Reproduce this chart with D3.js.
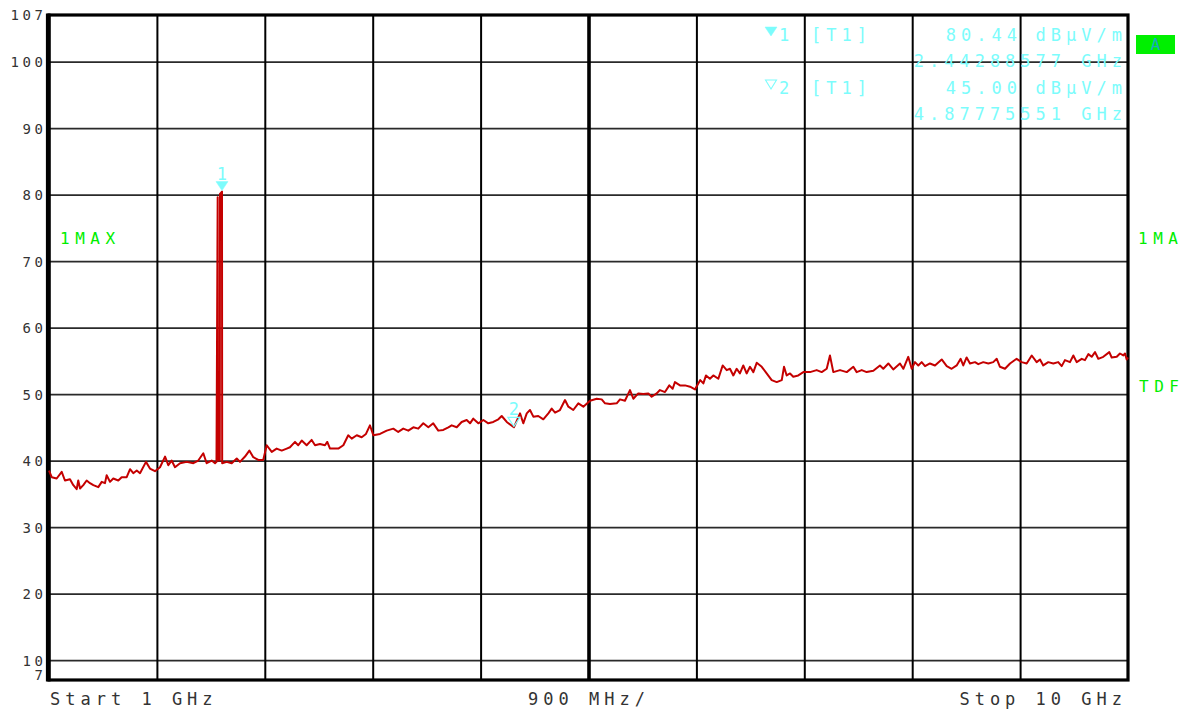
<!DOCTYPE html>
<html>
<head>
<meta charset="utf-8">
<script src="https://cdn.jsdelivr.net/npm/d3@7"></script>
<style>
  body { margin: 0; background: #ffffff; }
  svg { display: block; }
  text { font-family: "DejaVu Sans Mono", monospace; }
</style>
</head>
<body>
<svg id="chart" width="1188" height="711"></svg>
<script>
// Trace 1 (max hold), frequency in GHz and level in dBµV/m
const traceFreqGHz = [
  1.000,1.023,1.064,1.106,1.133,1.175,1.203,1.231,1.244,1.259,
  1.286,1.314,1.342,1.370,1.411,1.440,1.467,1.481,1.509,1.536,
  1.578,1.606,1.648,1.676,1.703,1.732,1.759,1.809,1.842,1.884,
  1.926,1.968,1.995,2.023,2.051,2.093,2.149,2.204,2.245,2.287,
  2.315,2.357,2.385,2.397,2.407,2.409,2.4245,2.4265,2.4429,2.4445,2.482,
  2.524,2.566,2.593,2.635,2.671,2.704,2.746,2.787,2.816,2.858,
  2.899,2.941,2.983,3.010,3.052,3.079,3.108,3.149,3.191,3.219,
  3.260,3.302,3.321,3.344,3.413,3.455,3.496,3.525,3.567,3.608,
  3.644,3.677,3.705,3.761,3.817,3.872,3.913,3.955,3.997,4.039,
  4.080,4.122,4.164,4.205,4.247,4.289,4.331,4.359,4.401,4.442,
  4.484,4.512,4.539,4.581,4.623,4.664,4.706,4.748,4.776,4.818,
  4.8778,4.929,4.956,4.985,5.012,5.040,5.081,5.123,5.165,5.193,
  5.221,5.262,5.304,5.332,5.373,5.415,5.457,5.513,5.568,5.610,
  5.638,5.679,5.735,5.763,5.804,5.846,5.874,5.915,5.957,5.999,
  6.027,6.069,6.096,6.138,6.174,6.202,6.221,6.263,6.305,6.347,
  6.388,6.432,6.458,6.480,6.513,6.541,6.583,6.619,6.653,6.680,
  6.708,6.736,6.763,6.791,6.819,6.847,6.875,6.903,6.945,6.986,
  7.028,7.070,7.112,7.131,7.153,7.181,7.208,7.250,7.292,7.348,
  7.403,7.445,7.487,7.514,7.542,7.598,7.654,7.709,7.737,7.779,
  7.820,7.876,7.931,7.959,8.001,8.042,8.098,8.126,8.167,8.196,
  8.223,8.251,8.279,8.307,8.348,8.390,8.446,8.488,8.529,8.571,
  8.604,8.626,8.654,8.682,8.724,8.751,8.793,8.835,8.876,8.905,
  8.932,8.974,9.016,9.071,9.113,9.155,9.197,9.238,9.266,9.293,
  9.335,9.377,9.418,9.447,9.474,9.516,9.544,9.572,9.614,9.641,
  9.669,9.697,9.725,9.752,9.794,9.844,9.864,9.906,9.933,9.961,
  9.975,9.989,10.000
];
const traceLevel = [
  38.5,37.5,37.3,38.3,37.0,37.2,36.3,35.7,37.0,35.8,
  36.3,37.0,36.6,36.3,36.0,36.8,36.6,37.8,36.8,37.3,
  37.0,37.5,37.5,38.7,38.1,38.5,38.1,39.8,38.8,38.4,
  39.0,40.6,39.3,40.0,39.0,39.6,39.8,39.6,40.0,41.1,
  39.6,40.0,39.6,39.8,79.6,40.0,40.0,80.1,80.44,39.6,39.8,
  39.6,40.3,39.8,40.6,41.5,40.5,40.1,40.1,42.3,41.3,
  41.8,41.5,41.8,42.0,42.8,42.3,43.0,42.3,43.1,42.3,
  42.5,42.3,42.8,41.8,41.8,42.3,43.8,43.3,43.8,43.5,
  44.0,45.3,43.8,44.0,44.5,44.8,44.3,44.8,44.5,45.0,
  44.8,45.6,45.0,45.6,44.5,44.6,45.0,45.3,45.0,45.8,
  46.1,45.6,46.3,45.6,46.1,45.6,45.8,46.2,46.7,45.8,
  45.0,47.1,45.6,47.1,47.6,46.6,46.7,46.2,47.1,47.8,
  47.2,47.6,49.1,48.1,47.6,48.6,48.1,49.0,49.3,49.2,
  48.6,48.5,48.6,49.2,49.0,50.6,49.3,50.1,50.0,50.1,
  49.6,50.1,50.6,50.3,51.3,50.8,51.8,51.3,51.3,51.1,
  50.7,52.1,51.6,52.8,52.3,52.8,52.3,54.3,53.6,53.8,
  52.8,53.8,53.1,54.3,53.1,54.1,53.3,54.7,54.1,53.1,
  52.1,51.8,52.1,54.1,52.8,53.1,52.6,52.8,53.3,53.3,
  53.6,53.3,53.8,55.8,53.3,53.6,53.3,54.1,53.3,53.6,
  53.3,53.5,54.3,53.8,54.6,53.7,54.6,53.8,55.6,53.8,
  54.8,54.3,54.8,54.2,54.6,54.3,55.2,54.2,53.8,54.3,
  55.3,54.3,55.5,54.6,54.8,54.5,54.8,54.6,54.8,55.3,
  54.1,53.8,54.6,55.3,54.8,54.6,55.8,54.8,55.2,54.3,
  54.8,54.6,54.8,54.2,55.1,54.8,55.8,54.8,55.3,55.1,
  56.0,55.6,56.3,55.3,55.6,56.3,55.5,55.6,56.1,55.8,
  56.1,55.2,55.5
];

// Axis settings
const yTickValues = [107, 100, 90, 80, 70, 60, 50, 40, 30, 20, 10, 7];
const yGridValues = [100, 90, 80, 70, 60, 50, 40, 30, 20, 10];
const xGridGHz = [1.9, 2.8, 3.7, 4.6, 5.5, 6.4, 7.3, 8.2, 9.1];

// Markers
const markerIds = ["1", "2"];
const markerFreqGHz = [2.44288577, 4.87775551];
const markerLevel = [80.44, 45.00];
const markerFilled = [true, false];

// Annotation text
const footLabels = ["Start 1 GHz", "900 MHz/", "Stop 10 GHz"];
const traceModeLabel = ["1MAX", "1MA"];
const detectorLabel = "TDF";
const screenLabel = "A";

const svg = d3.select("#chart");
const plotLeft = 49, plotRight = 1128, plotTop = 15, plotBottom = 680;

const x = d3.scaleLinear().domain([1, 10]).range([plotLeft, plotRight]);
const y = d3.scaleLinear().domain([7, 107]).range([plotBottom, plotTop]);

const CYAN = "#7cfcfc";
const GREEN = "#00ee00";
const RED = "#c40000";

// Horizontal grid
const hGrid = svg.append("g")
  .attr("transform", `translate(${plotLeft},0)`)
  .call(d3.axisLeft(y).tickValues(yGridValues).tickSize(-(plotRight - plotLeft)).tickFormat(""));
hGrid.select(".domain").remove();
hGrid.selectAll(".tick line").attr("stroke", "#2a2a2a").attr("stroke-width", 1.7);

// Vertical grid
const vGrid = svg.append("g")
  .attr("transform", `translate(0,${plotBottom})`)
  .call(d3.axisBottom(x).tickValues(xGridGHz).tickSize(-(plotBottom - plotTop)).tickFormat(""));
vGrid.select(".domain").remove();
vGrid.selectAll(".tick line")
  .attr("stroke", "#000")
  .attr("stroke-width", d => (Math.abs(d - 5.5) < 1e-9 ? 3.6 : 2));

// Frame
svg.append("rect")
  .attr("x", plotLeft).attr("y", plotTop)
  .attr("width", plotRight - plotLeft).attr("height", plotBottom - plotTop)
  .attr("fill", "none").attr("stroke", "#000").attr("stroke-width", 3.2);
svg.append("line")
  .attr("x1", plotLeft - 0.8).attr("x2", plotLeft - 0.8)
  .attr("y1", plotTop - 1.5).attr("y2", plotBottom + 1.5)
  .attr("stroke", "#000").attr("stroke-width", 4.6);

// Level labels
const yLabels = svg.append("g")
  .attr("transform", `translate(${plotLeft},0)`)
  .call(d3.axisLeft(y).tickValues(yTickValues).tickSize(0).tickPadding(0).tickFormat(d3.format("d")));
yLabels.select(".domain").remove();
yLabels.selectAll(".tick text")
  .attr("x", -2.5)
  .attr("fill", "#333")
  .style("font-size", "14px")
  .style("letter-spacing", "3.6px")
  .attr("dy", d => (d === 7 ? "-0.05em" : d === 107 ? "0.3em" : "0.36em"));

// Trace
const line = d3.line()
  .x((d, i) => x(traceFreqGHz[i]))
  .y(d => y(d));
svg.append("path")
  .datum(traceLevel)
  .attr("d", line)
  .attr("fill", "none")
  .attr("stroke", RED)
  .attr("stroke-width", 2)
  .attr("stroke-linejoin", "round");

// Marker symbols on the trace
function triangle(cx, tipY, w, h) {
  return `M${cx - w / 2},${tipY - h} L${cx + w / 2},${tipY - h} L${cx},${tipY} Z`;
}
markerIds.forEach((id, i) => {
  const mx = x(markerFreqGHz[i]);
  const my = y(markerLevel[i]);
  svg.append("path")
    .attr("d", triangle(mx, my - 1, 12, 9))
    .attr("fill", markerFilled[i] ? CYAN : "none")
    .attr("stroke", CYAN)
    .attr("stroke-width", markerFilled[i] ? 0.5 : 1.2);
  svg.append("text")
    .attr("x", mx).attr("y", my - 12)
    .attr("text-anchor", "middle")
    .attr("fill", CYAN)
    .style("font-size", "17px")
    .text(id);
});

// Generic text helper with wide instrument spacing
function label(tx, ty, str, color, size, spacing, anchor) {
  return svg.append("text")
    .attr("x", anchor === "end" ? tx + spacing : tx)
    .attr("y", ty)
    .attr("fill", color)
    .attr("text-anchor", anchor || "start")
    .style("font-size", size + "px")
    .style("letter-spacing", spacing + "px")
    .text(str);
}

// Marker info block
markerIds.forEach((id, i) => {
  const base = 41 + i * 53;
  svg.append("path")
    .attr("d", triangle(771, base - 5, i === 0 ? 12 : 11, 9))
    .attr("fill", markerFilled[i] ? CYAN : "none")
    .attr("stroke", CYAN)
    .attr("stroke-width", markerFilled[i] ? 0.5 : 1.1);
  label(779, base, id, CYAN, 17, 5);
  label(811, base, "[T1]", CYAN, 17, 5);
  label(1017, base, markerLevel[i].toFixed(2), CYAN, 17, 5, "end");
  label(1122, base, "dBµV/m", CYAN, 17, 5, "end");
  label(1122, base + 26, markerFreqGHz[i].toFixed(8) + " GHz", CYAN, 17, 5, "end");
});

// Screen indicator
svg.append("rect")
  .attr("x", 1136).attr("y", 35).attr("width", 39).attr("height", 19)
  .attr("fill", "#00f000");
svg.append("text")
  .attr("x", 1155.5).attr("y", 50)
  .attr("text-anchor", "middle")
  .attr("fill", "#1aa8c0")
  .style("font-size", "16px")
  .text(screenLabel);

// Trace mode / detector labels
label(60, 244, traceModeLabel[0], GREEN, 16, 5.5);
label(1138, 244, traceModeLabel[1], GREEN, 16, 5.5);
label(1139, 392, detectorLabel, GREEN, 16, 5.5);

// Frequency axis annotation
label(50, 705, footLabels[0], "#333", 17, 5);
label(528, 705, footLabels[1], "#333", 17, 5);
label(1122, 705, footLabels[2], "#333", 17, 5, "end");
</script>
</body>
</html>
